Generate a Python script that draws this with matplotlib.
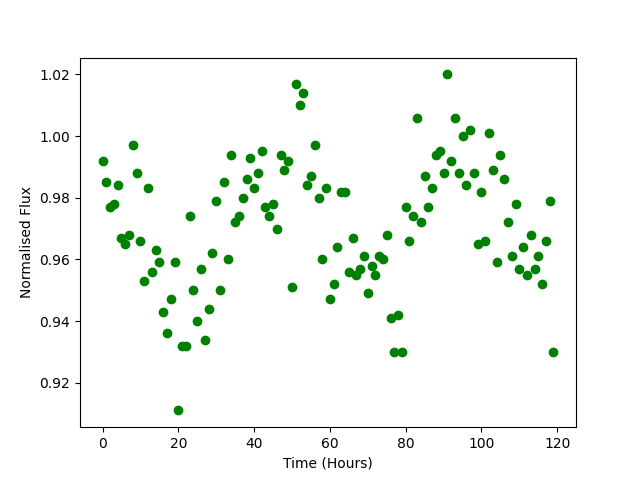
import numpy as np
import matplotlib
matplotlib.use("Agg")
import matplotlib.pyplot as plt

# ── Data ──────────────────────────────────────────────────────────────────────
time_hours = np.arange(120)

flux = [
    0.992, 0.985, 0.977, 0.978, 0.984, 0.967, 0.965, 0.968, 0.997, 0.988,
    0.966, 0.953, 0.983, 0.956, 0.963, 0.959, 0.943, 0.936, 0.947, 0.959,
    0.911, 0.932, 0.932, 0.974, 0.950, 0.940, 0.957, 0.934, 0.944, 0.962,
    0.979, 0.950, 0.985, 0.960, 0.994, 0.972, 0.974, 0.980, 0.986, 0.993,
    0.983, 0.988, 0.995, 0.977, 0.974, 0.978, 0.970, 0.994, 0.989, 0.992,
    0.951, 1.017, 1.010, 1.014, 0.984, 0.987, 0.997, 0.980, 0.960, 0.983,
    0.947, 0.952, 0.964, 0.982, 0.982, 0.956, 0.967, 0.955, 0.957, 0.961,
    0.949, 0.958, 0.955, 0.961, 0.960, 0.968, 0.941, 0.930, 0.942, 0.930,
    0.977, 0.966, 0.974, 1.006, 0.972, 0.987, 0.977, 0.983, 0.994, 0.995,
    0.988, 1.020, 0.992, 1.006, 0.988, 1.000, 0.984, 1.002, 0.988, 0.965,
    0.982, 0.966, 1.001, 0.989, 0.959, 0.994, 0.986, 0.972, 0.961, 0.978,
    0.957, 0.964, 0.955, 0.968, 0.957, 0.961, 0.952, 0.966, 0.979, 0.930,
]

# ── Plot ──────────────────────────────────────────────────────────────────────
fig, ax = plt.subplots(figsize=(6.4, 4.8), dpi=100)
ax.plot(time_hours, flux, "o", color="green")
ax.set_xlabel("Time (Hours)")
ax.set_ylabel("Normalised Flux")

plt.savefig("out.png", dpi=100)
